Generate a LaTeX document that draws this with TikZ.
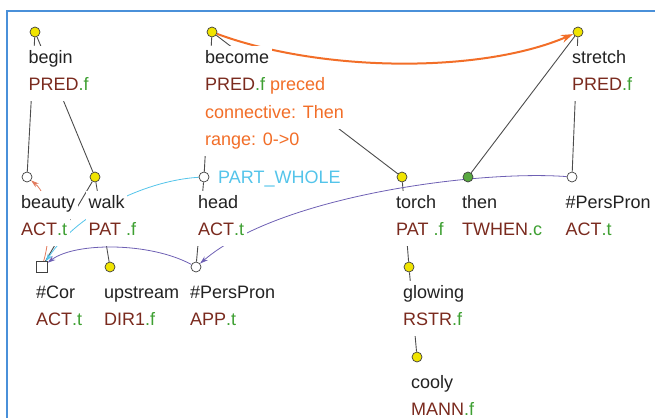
\documentclass[tikz,border=0pt]{standalone}
\usepackage{fontspec}
\setmainfont{Liberation Sans}
\usepackage{tikz}
\usetikzlibrary{arrows.meta,backgrounds}

\definecolor{nodeyellow}{RGB}{240,228,0}
\definecolor{nodegreen}{RGB}{88,168,64}
\definecolor{wordtext}{RGB}{34,34,34}
\definecolor{functor}{RGB}{122,42,30}
\definecolor{suffix}{RGB}{62,160,50}
\definecolor{corefgram}{RGB}{110,96,180}
\definecolor{corefpart}{RGB}{84,196,234}
\definecolor{corefself}{RGB}{226,122,92}
\definecolor{discourse}{RGB}{242,110,40}
\definecolor{frameblue}{RGB}{74,144,217}

\newcommand{\tfunc}[2]{\textcolor{functor}{#1}\textcolor{suffix}{#2}}

\tikzset{
  tnode/.style={circle, draw=black!75, line width=0.7pt, minimum size=10pt, inner sep=0pt},
  ynode/.style={tnode, fill=nodeyellow},
  gnode/.style={tnode, fill=nodegreen},
  wnode/.style={tnode, fill=white},
  snode/.style={rectangle, draw=black!75, line width=0.7pt, minimum size=10.5pt, inner sep=0pt, fill=white},
  tline/.style={anchor=base west, fill=white, text=wordtext, inner xsep=2.5pt, inner ysep=0pt, text height=17pt, text depth=10.5pt},
  edge/.style={draw=black!70, line width=0.9pt},
  coref/.style={line width=0.8pt, -{Stealth[length=8pt, width=5pt]}},
  discarrow/.style={draw=discourse, line width=2pt, -{Stealth[length=12pt, width=8pt]}},
  frame/.style={draw=frameblue, line width=1.5pt}
}

\begin{document}
\begin{tikzpicture}[x=1pt, y=-1pt, font=\fontsize{18}{22}\selectfont]
\useasboundingbox (0,0) rectangle (655,418);

\node[ynode] (begin) at (35,32) {};
\node[ynode] (become) at (212,32) {};
\node[ynode] (stretch) at (578,32) {};
\node[wnode] (beauty) at (27,177) {};
\node[ynode] (walk) at (95,177) {};
\node[wnode] (head) at (204,177) {};
\node[ynode] (torch) at (402,177) {};
\node[gnode] (then) at (468,177) {};
\node[wnode] (perspron) at (572,177) {};
\node[snode] (cor) at (42,267) {};
\node[ynode] (upstream) at (110,267) {};
\node[wnode] (persprapp) at (196,267) {};
\node[ynode] (glowing) at (409,267) {};
\node[ynode] (cooly) at (417,357) {};

\begin{scope}[on background layer]
\draw[frame] (655,11) -- (7,11) -- (7,418);
\draw[edge] (begin) -- (beauty);
\draw[edge] (begin) -- (walk);
\draw[edge] (walk) -- (cor);
\draw[edge] (walk) -- (upstream);
\draw[edge] (become) -- (head);
\draw[edge] (become) -- (torch);
\draw[edge] (head) -- (persprapp);
\draw[edge] (torch) -- (glowing);
\draw[edge] (glowing) -- (cooly);
\draw[edge] (stretch) -- (then);
\draw[edge] (stretch) -- (perspron);
\draw[coref, draw=corefself] (cor) .. controls (52,232) and (50,196) .. (beauty);
\draw[coref, draw=corefpart] (head) .. controls (150,180) and (80,210) .. (cor);
\draw[coref, draw=corefgram] (perspron) .. controls (480,170) and (280,195) .. (persprapp);
\draw[coref, draw=corefgram] (persprapp) .. controls (150,242) and (75,242) .. (cor);
\draw[discarrow] (become) .. controls (320,72) and (480,74) .. (stretch);
\end{scope}

\node[tline] (beginw) at (26,63) {begin};
\node[tline] (beginf) at (26,90.5) {\tfunc{PRED}{.f}};
\node[tline] (becomew) at (202.5,63) {become};
\node[tline] (becomef) at (202.5,90.5) {\tfunc{PRED}{.f} \textcolor{discourse}{preced}};
\node[tline, text=discourse] (becomec) at (202.5,118) {connective: Then};
\node[tline, text=discourse] (becomer) at (202.5,145.5) {range: 0->0};
\node[tline] (stretchw) at (569.5,63) {stretch};
\node[tline] (stretchf) at (569.5,90.5) {\tfunc{PRED}{.f}};
\node[tline] (beautyw) at (18.5,208) {beauty};
\node[tline] (beautyf) at (18.5,235.5) {\tfunc{ACT}{.t}};
\node[tline] (walkw) at (86,208) {walk};
\node[tline] (walkf) at (86,235.5) {\tfunc{PAT}{\ .f}};
\node[tline] (headw) at (195.5,208) {head};
\node[tline] (headf) at (195.5,235.5) {\tfunc{ACT}{.t}};
\node[anchor=base west, text=corefpart, inner sep=1pt] (partwhole) at (217,183) {PART\_WHOLE};
\node[tline] (torchw) at (393.5,208) {torch};
\node[tline] (torchf) at (393.5,235.5) {\tfunc{PAT}{\ .f}};
\node[tline] (thenw) at (459.5,208) {then};
\node[tline] (thenf) at (459.5,235.5) {\tfunc{TWHEN}{.c}};
\node[tline] (perspronw) at (563,208) {\#PersPron};
\node[tline] (perspronf) at (563,235.5) {\tfunc{ACT}{.t}};
\node[tline] (corw) at (33.5,298) {\#Cor};
\node[tline] (corf) at (33.5,325.5) {\tfunc{ACT}{.t}};
\node[tline] (upstreamw) at (101.5,298) {upstream};
\node[tline] (upstreamf) at (101.5,325.5) {\tfunc{DIR1}{.f}};
\node[tline] (persprappw) at (187.5,298) {\#PersPron};
\node[tline] (persprappf) at (187.5,325.5) {\tfunc{APP}{.t}};
\node[tline] (glowingw) at (400.5,298) {glowing};
\node[tline] (glowingf) at (400.5,325.5) {\tfunc{RSTR}{.f}};
\node[tline] (coolyw) at (408.5,388) {cooly};
\node[tline] (coolyf) at (408.5,415.5) {\tfunc{MANN}{.f}};
\end{tikzpicture}
\end{document}
